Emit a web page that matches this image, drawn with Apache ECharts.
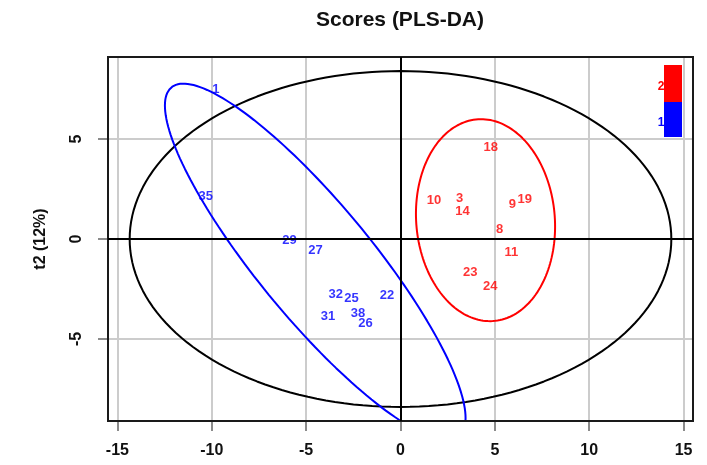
<!DOCTYPE html>
<html>
<head>
<meta charset="utf-8">
<title>Scores (PLS-DA)</title>
<script src="https://cdn.jsdelivr.net/npm/echarts@6/dist/echarts.min.js"></script>
<style>
  html, body { margin: 0; padding: 0; background: #ffffff; }
  #chart { width: 707px; height: 465px; }
</style>
</head>
<body>
<div id="chart"></div>
<script>
// Sample scores on the first two PLS-DA components, by class
const class2Ids = ['18', '10', '3', '14', '9', '19', '8', '11', '23', '24'];
const class2T1  = [4.78, 1.77, 3.13, 3.28, 5.93, 6.58, 5.25, 5.87, 3.70, 4.76];
const class2T2  = [4.60, 1.95, 2.03, 1.37, 1.74, 1.99, 0.49, -0.69, -1.67, -2.39];

const class1Ids = ['1', '35', '29', '27', '32', '25', '22', '31', '38', '26'];
const class1T1  = [-9.79, -10.32, -5.88, -4.50, -3.43, -2.60, -0.72, -3.84, -2.25, -1.85];
const class1T2  = [7.49, 2.12, -0.05, -0.55, -2.77, -2.97, -2.82, -3.88, -3.72, -4.22];

// Tick labels of both axes
const t1Ticks = [-15, -10, -5, 0, 5, 10, 15];
const t2Ticks = [-5, 0, 5];

// Class legend (level, colour)
const classLevels = ['2', '1'];
const classColors = ['#ff0000', '#0000ff'];

const t2Title = 't2 (12%)';
const chartTitle = 'Scores (PLS-DA)';

// Statistical constants
const CHI2_95_2 = 5.9915;       // qchisq(0.95, 2)
const F_95_2_18 = 3.5546;       // qf(0.95, 2, n - 2) with n = 20

function mean(v) { return v.reduce((s, a) => s + a, 0) / v.length; }
function cov(a, b) {
  const ma = mean(a), mb = mean(b);
  let s = 0;
  for (let i = 0; i < a.length; i++) s += (a[i] - ma) * (b[i] - mb);
  return s / (a.length - 1);
}

// 95% normal-theory ellipse of a class (mean + r * chol(cov) * unit circle)
function classEllipse(xs, ys) {
  const mx = mean(xs), my = mean(ys);
  const sxx = cov(xs, xs), syy = cov(ys, ys), sxy = cov(xs, ys);
  const l11 = Math.sqrt(sxx), l21 = sxy / l11, l22 = Math.sqrt(syy - l21 * l21);
  const r = Math.sqrt(CHI2_95_2);
  const pts = [];
  for (let k = 0; k <= 180; k++) {
    const t = 2 * Math.PI * k / 180;
    const c = Math.cos(t), s = Math.sin(t);
    pts.push([mx + r * l11 * c, my + r * (l21 * c + l22 * s)]);
  }
  return pts;
}

// Hotelling T2 (95%) ellipse of all scores
function hotellingEllipse(xs, ys) {
  const n = xs.length;
  const hotFisN = (n - 1) * 2 * (n * n - 1) / (n * n * (n - 2)) * F_95_2_18;
  const a = Math.sqrt(cov(xs, xs) * hotFisN);
  const b = Math.sqrt(cov(ys, ys) * hotFisN);
  const pts = [];
  for (let k = 0; k <= 180; k++) {
    const t = 2 * Math.PI * k / 180;
    pts.push([a * Math.cos(t), b * Math.sin(t)]);
  }
  return pts;
}

const allT1 = class1T1.concat(class2T1);
const allT2 = class1T2.concat(class2T2);

function labelPoints(ids, xs, ys) {
  return ids.map((id, i) => ({ name: id, value: [xs[i], ys[i]] }));
}

const FONT = "'Liberation Sans', Arial, Helvetica, sans-serif";

const chart = echarts.init(document.getElementById('chart'), null, { renderer: 'canvas' });

// Plot region in pixels; axes carry the data range of the region
const plot = { left: 108, right: 14, top: 57, bottom: 44 };
const t1Lim = 15.5, t2Lim = 9.1;
const pxPerT1 = (707 - plot.left - plot.right) / (2 * t1Lim);
const pxPerT2 = (465 - plot.top - plot.bottom) / (2 * t2Lim);
const t1Lo = t1Ticks[0], t1Hi = t1Ticks[t1Ticks.length - 1];
const t2Lo = t2Ticks[0], t2Hi = t2Ticks[t2Ticks.length - 1];

const tickStyle = { show: true, inside: false, length: 10, lineStyle: { color: '#666', width: 1.5 } };
const gridLine = { show: true, lineStyle: { color: '#cccccc', width: 2 } };
const tickFont = { fontFamily: FONT, fontSize: 16, fontWeight: 'bold', color: '#111' };

chart.setOption({
  animation: false,
  backgroundColor: '#ffffff',
  title: {
    text: chartTitle,
    left: 311,
    top: 5,
    textStyle: { fontFamily: FONT, fontSize: 21, fontWeight: 'bold', color: '#111' }
  },
  grid: [
    // data region with the plot box
    { left: plot.left, right: plot.right, top: plot.top, bottom: plot.bottom,
      show: true, borderColor: '#1a1a1a', borderWidth: 2, backgroundColor: 'transparent', z: 5 },
    // t1 tick span
    { left: plot.left + (t1Lo + t1Lim) * pxPerT1, right: plot.right + (t1Lim - t1Hi) * pxPerT1,
      top: plot.top, bottom: plot.bottom },
    // t2 tick span
    { left: plot.left, right: plot.right,
      top: plot.top + (t2Lim - t2Hi) * pxPerT2, bottom: plot.bottom + (t2Lo + t2Lim) * pxPerT2 }
  ],
  xAxis: [
    { gridIndex: 0, type: 'value', min: -t1Lim, max: t1Lim, show: false },
    { gridIndex: 1, type: 'value', min: t1Lo, max: t1Hi, interval: t1Ticks[1] - t1Ticks[0],
      position: 'bottom',
      axisLine: { show: false, onZero: false }, axisTick: tickStyle, splitLine: gridLine,
      axisLabel: Object.assign({ margin: 22 }, tickFont) },
    { gridIndex: 2, type: 'value', min: -1, max: 1, show: false }
  ],
  yAxis: [
    { gridIndex: 0, type: 'value', min: -t2Lim, max: t2Lim, show: false },
    { gridIndex: 1, type: 'value', min: -1, max: 1, show: false },
    { gridIndex: 2, type: 'value', min: t2Lo, max: t2Hi, interval: t2Ticks[1] - t2Ticks[0],
      position: 'left',
      axisLine: { show: false, onZero: false }, axisTick: tickStyle, splitLine: gridLine,
      axisLabel: Object.assign({ margin: 23, rotate: 90 }, tickFont),
      name: t2Title, nameLocation: 'middle', nameRotate: 90, nameGap: 59,
      nameTextStyle: { fontFamily: FONT, fontSize: 16, fontWeight: 'bold', color: '#111' } }
  ],
  series: [
    {
      name: 'T2', type: 'line', xAxisIndex: 0, yAxisIndex: 0,
      data: hotellingEllipse(allT1, allT2), showSymbol: false, smooth: false, clip: true,
      lineStyle: { color: '#000000', width: 2 }, z: 3,
      markLine: {
        silent: true, symbol: 'none', label: { show: false },
        lineStyle: { color: '#000000', width: 2, type: 'solid' },
        data: [{ xAxis: 0 }, { yAxis: 0 }]
      }
    },
    {
      name: 'ellipse 2', type: 'line', xAxisIndex: 0, yAxisIndex: 0,
      data: classEllipse(class2T1, class2T2), showSymbol: false, clip: true,
      lineStyle: { color: classColors[0], width: 2 }, z: 3
    },
    {
      name: 'ellipse 1', type: 'line', xAxisIndex: 0, yAxisIndex: 0,
      data: classEllipse(class1T1, class1T2), showSymbol: false, clip: true,
      lineStyle: { color: classColors[1], width: 2 }, z: 3
    },
    {
      name: '2', type: 'scatter', xAxisIndex: 0, yAxisIndex: 0,
      data: labelPoints(class2Ids, class2T1, class2T2),
      symbolSize: 1, itemStyle: { color: 'rgba(0,0,0,0)' }, z: 4,
      label: { show: true, position: 'inside', formatter: p => p.name,
        fontFamily: FONT, fontSize: 13, fontWeight: 'bold', color: classColors[0] }
    },
    {
      name: '1', type: 'scatter', xAxisIndex: 0, yAxisIndex: 0,
      data: labelPoints(class1Ids, class1T1, class1T2),
      symbolSize: 1, itemStyle: { color: 'rgba(0,0,0,0)' }, z: 4,
      label: { show: true, position: 'inside', formatter: p => p.name,
        fontFamily: FONT, fontSize: 13, fontWeight: 'bold', color: classColors[1] }
    }
  ],
  graphic: [
    // colour key of the classes, top right inside the plot box
    { type: 'rect', left: 664, top: 65, shape: { width: 18, height: 37 }, style: { fill: classColors[0] }, z: 10 },
    { type: 'rect', left: 664, top: 102, shape: { width: 18, height: 35 }, style: { fill: classColors[1] }, z: 10 },
    { type: 'text', x: 661, y: 87, style: { text: classLevels[0], fill: classColors[0], font: "bold 12px " + FONT,
      textAlign: 'center', textVerticalAlign: 'middle' }, z: 10 },
    { type: 'text', x: 661, y: 123, style: { text: classLevels[1], fill: classColors[1], font: "bold 12px " + FONT,
      textAlign: 'center', textVerticalAlign: 'middle' }, z: 10 }
  ]
});
</script>
</body>
</html>
